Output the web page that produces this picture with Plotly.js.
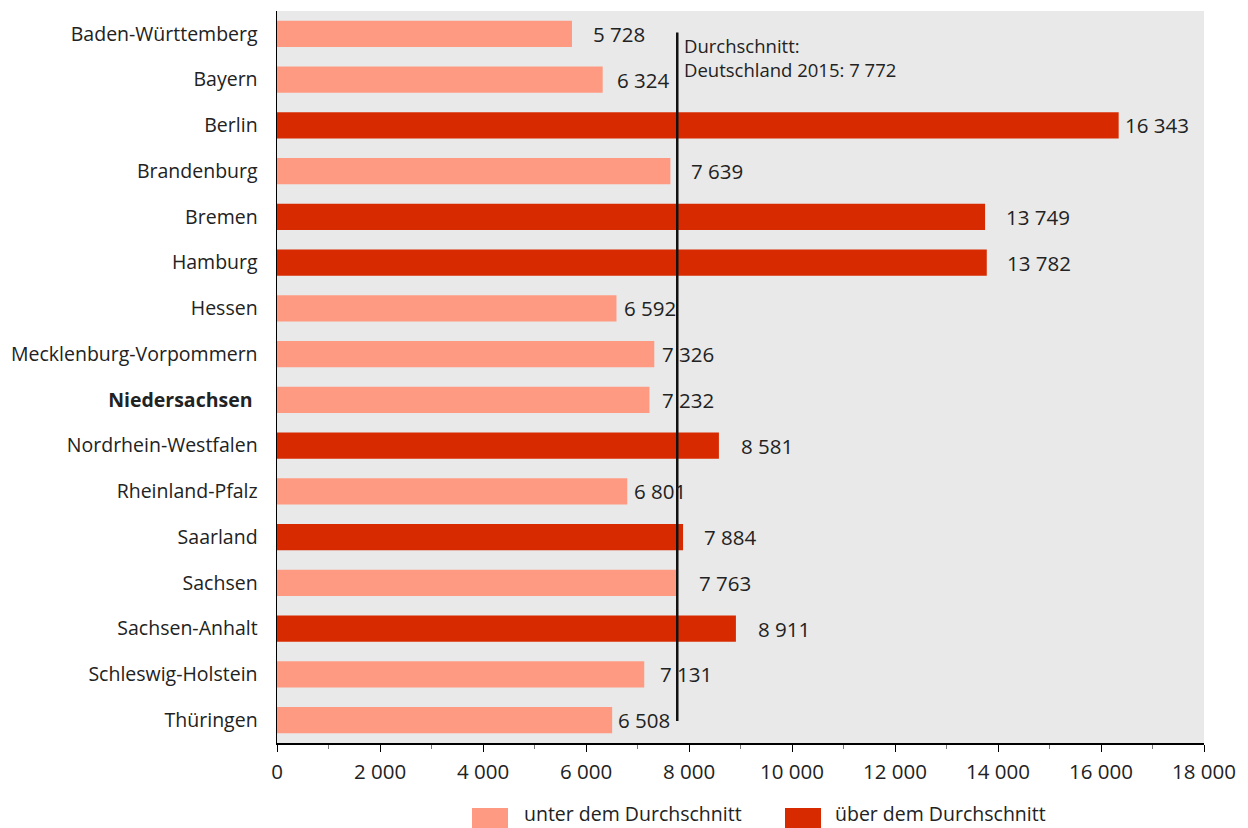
<!DOCTYPE html>
<html>
<head>
<meta charset="utf-8">
<script src="https://cdn.plot.ly/plotly-3.0.1.min.js"></script>
<style>
html,body{margin:0;padding:0;background:#fff;}
#chart{width:1248px;height:828px;}
</style>
</head>
<body>
<div id="chart"></div>
<script>
const categories = ["Baden-Württemberg","Bayern","Berlin","Brandenburg","Bremen","Hamburg","Hessen","Mecklenburg-Vorpommern","Niedersachsen","Nordrhein-Westfalen","Rheinland-Pfalz","Saarland","Sachsen","Sachsen-Anhalt","Schleswig-Holstein","Thüringen"];
const values = [5728,6324,16343,7639,13749,13782,6592,7326,7232,8581,6801,7884,7763,8911,7131,6508];
const average = 7772;
const averageLabel = "Durchschnitt:<br>Deutschland 2015: 7 772";
const xTicks = [0,2000,4000,6000,8000,10000,12000,14000,16000,18000];
const legendNames = ["unter dem Durchschnitt","über dem Durchschnitt"];
const highlight = "Niedersachsen";

// styling (pixel offsets for the value labels)
const labelShift = [21,14,6,21,21,20,8,8,13,22,7,21,22,22,16,6];
const colLow = "#ff9a82";
const colHigh = "#d82a00";
const fontFam = "'Open Sans', 'Noto Sans', sans-serif";
const txtSize = 19.5;
const numSize = 20.5;

const tickText = categories.map(c => c === highlight ? "<b>" + c + "</b> " : c);
const below = values.map(v => v < average ? v : null);
const above = values.map(v => v >= average ? v : null);

const traces = [
  {type:"bar", orientation:"h", y:categories, x:below, marker:{color:colLow}, width:0.57, name:legendNames[0], showlegend:false},
  {type:"bar", orientation:"h", y:categories, x:above, marker:{color:colHigh}, width:0.57, name:legendNames[1], showlegend:false}
];

const fmt = v => String(v).replace(/\B(?=(\d{3})+(?!\d))/g, " ");

const W = 1248, H = 828, mL = 277, mR = 44, mT = 11, mB = 85;
const pw = W - mL - mR, ph = H - mT - mB;
const px = x => (x - mL) / pw;
const py = y => (H - mB - y) / ph;

const annotations = values.map((v,i) => ({
  x:v, y:categories[i], xref:"x", yref:"y", text:fmt(v), showarrow:false,
  xanchor:"left", yanchor:"middle", xshift:labelShift[i]-2,
  font:{family:fontFam, size:numSize, color:"#222"}
}));
annotations.push({
  x:average, y:0, xref:"x", yref:"y", text:averageLabel, showarrow:false,
  xanchor:"left", yanchor:"top", xshift:5, yshift:3, align:"left",
  font:{family:fontFam, size:18.5, color:"#222"}
});
// custom legend
[[522,legendNames[0]],[833,legendNames[1]]].forEach(([x,t]) => annotations.push({
  x:px(x), y:py(813), xref:"paper", yref:"paper", text:t, showarrow:false,
  xanchor:"left", yanchor:"middle", font:{family:fontFam, size:txtSize, color:"#222"}
}));

const shapes = [
  {type:"line", xref:"x", yref:"y", x0:average, x1:average, y0:-0.03, y1:15.02, line:{color:"#111", width:2.5}},
  {type:"rect", xref:"paper", yref:"paper", x0:px(472), x1:px(508), y0:py(808), y1:py(828), fillcolor:colLow, line:{width:0}},
  {type:"rect", xref:"paper", yref:"paper", x0:px(785), x1:px(821), y0:py(808), y1:py(828), fillcolor:colHigh, line:{width:0}}
];

const layout = {
  width:W, height:H,
  margin:{l:mL, r:mR, t:mT, b:mB, pad:0},
  paper_bgcolor:"#fff", plot_bgcolor:"#e9e9e9",
  separators:", ",
  barmode:"overlay",
  font:{family:fontFam, size:txtSize, color:"#222"},
  xaxis:{range:[0,18000], tickvals:xTicks, tickformat:",d", showgrid:false, zeroline:false,
    showline:true, linecolor:"#000", linewidth:1.5, ticks:"outside", ticklen:7, tickwidth:1, tickcolor:"#000",
    ticklabelstandoff:3,
    minor:{dtick:1000, ticks:"outside", ticklen:4, tickcolor:"#777", showgrid:false},
    tickfont:{family:fontFam, size:numSize, color:"#222"}, fixedrange:true},
  yaxis:{type:"category", range:[15.5,-0.5], tickvals:categories, ticktext:tickText, showgrid:false, zeroline:false,
    showline:true, linecolor:"#000", linewidth:1.5, ticks:"", ticklabelstandoff:14,
    tickfont:{family:fontFam, size:txtSize, color:"#222"}, fixedrange:true},
  annotations:annotations,
  shapes:shapes
};

Plotly.newPlot("chart", traces, layout, {displayModeBar:false, staticPlot:true});
</script>
</body>
</html>
